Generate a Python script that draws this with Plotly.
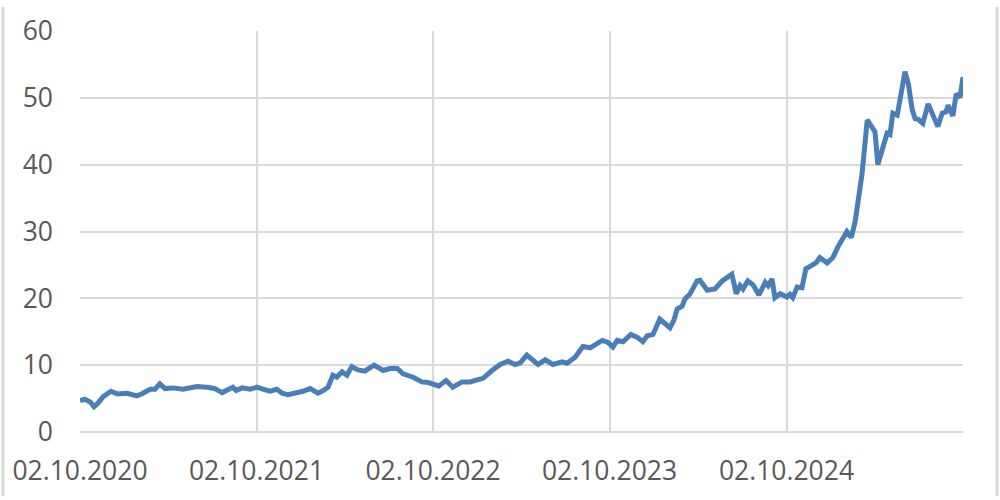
import plotly.graph_objects as go

# weekly-ish price series
dates = [
    "2020-10-02", "2020-10-12", "2020-10-23", "2020-10-31", "2020-11-08", "2020-11-19",
    "2020-12-05", "2020-12-18", "2021-01-07", "2021-01-28", "2021-02-09", "2021-02-24",
    "2021-03-06", "2021-03-16", "2021-03-27", "2021-04-12", "2021-05-03", "2021-06-01",
    "2021-06-22", "2021-07-08", "2021-07-23", "2021-08-04", "2021-08-14", "2021-08-21",
    "2021-09-02", "2021-09-19", "2021-10-03", "2021-10-15", "2021-10-30", "2021-11-13",
    "2021-11-24", "2021-12-06", "2021-12-25", "2022-01-06", "2022-01-21", "2022-02-06",
    "2022-02-17", "2022-02-27", "2022-03-09", "2022-03-17", "2022-03-28", "2022-04-07",
    "2022-04-17", "2022-04-30", "2022-05-14", "2022-06-02", "2022-06-21", "2022-07-05",
    "2022-07-20", "2022-08-01", "2022-08-22", "2022-09-09", "2022-09-22", "2022-10-02",
    "2022-10-14", "2022-10-29", "2022-11-12", "2022-12-01", "2022-12-18", "2023-01-01",
    "2023-01-13", "2023-02-01", "2023-02-18", "2023-03-06", "2023-03-21", "2023-03-31",
    "2023-04-14", "2023-05-07", "2023-05-22", "2023-06-07", "2023-06-26", "2023-07-06",
    "2023-07-23", "2023-08-08", "2023-08-23", "2023-09-17", "2023-09-29", "2023-10-09",
    "2023-10-18", "2023-10-30", "2023-11-15", "2023-11-28", "2023-12-10", "2023-12-19",
    "2023-12-31", "2024-01-14", "2024-01-25", "2024-02-04", "2024-02-12", "2024-02-19",
    "2024-02-29", "2024-03-06", "2024-03-16", "2024-03-31", "2024-04-06", "2024-04-21",
    "2024-05-07", "2024-05-22", "2024-06-01", "2024-06-11", "2024-06-20", "2024-06-28",
    "2024-07-04", "2024-07-14", "2024-07-25", "2024-08-06", "2024-08-19", "2024-08-25",
    "2024-09-02", "2024-09-08", "2024-09-19", "2024-10-03", "2024-10-09", "2024-10-15",
    "2024-10-24", "2024-11-03", "2024-11-11", "2024-11-24", "2024-12-02", "2024-12-10",
    "2024-12-25", "2025-01-06", "2025-01-17", "2025-02-04", "2025-02-13", "2025-02-21",
    "2025-03-07", "2025-03-18", "2025-03-28", "2025-04-03", "2025-04-09", "2025-04-20",
    "2025-04-28", "2025-05-04", "2025-05-10", "2025-05-19", "2025-05-25", "2025-06-04",
    "2025-06-11", "2025-06-19", "2025-06-25", "2025-07-01", "2025-07-11", "2025-07-22",
    "2025-08-05", "2025-08-11", "2025-08-20", "2025-08-28", "2025-09-01", "2025-09-11",
    "2025-09-18", "2025-09-26", "2025-10-02",
]
values = [
    4.7, 4.9, 4.5, 3.8, 4.3, 5.3,
    6.1, 5.7, 5.8, 5.4, 5.8, 6.4,
    6.4, 7.2, 6.5, 6.6, 6.4, 6.8,
    6.7, 6.5, 5.9, 6.4, 6.7, 6.2,
    6.6, 6.4, 6.7, 6.4, 6.1, 6.4,
    5.8, 5.6, 5.8, 6.1, 6.5, 5.8,
    6.2, 6.7, 8.5, 8.2, 9.0, 8.5,
    9.8, 9.3, 9.1, 10.0, 9.2, 9.5,
    9.5, 8.7, 8.2, 7.5, 7.4, 7.1,
    6.9, 7.7, 6.7, 7.5, 7.5, 7.8,
    8.0, 9.2, 10.1, 10.6, 10.1, 10.3,
    11.5, 10.1, 10.8, 10.1, 10.5, 10.3,
    11.2, 12.8, 12.6, 13.7, 13.4, 12.7,
    13.7, 13.5, 14.6, 14.2, 13.5, 14.4,
    14.6, 16.9, 16.1, 15.6, 16.7, 18.4,
    18.8, 19.9, 20.6, 22.6, 22.7, 21.2,
    21.4, 22.6, 23.1, 23.6, 20.7, 21.9,
    21.4, 22.6, 22.0, 20.5, 22.4, 21.9,
    22.9, 20.1, 20.7, 20.2, 20.6, 20.1,
    21.7, 21.6, 24.4, 25.1, 25.3, 26.1,
    25.3, 26.1, 27.8, 30.0, 29.1, 31.5,
    38.5, 46.7, 45.4, 44.9, 40.0, 42.5,
    44.7, 44.5, 47.7, 47.4, 49.9, 53.9,
    52.1, 48.2, 46.9, 46.8, 46.2, 49.1,
    46.7, 45.7, 47.7, 47.9, 48.9, 47.3,
    50.6, 50.1, 53.1,
]
x_ticks = ["2020-10-02", "2021-10-02", "2022-10-02", "2023-10-02", "2024-10-02"]

grid = "#d9d9d9"
text_col = "#595959"

fig = go.Figure()
fig.add_trace(go.Scatter(
    x=dates, y=values, mode="lines",
    line=dict(color="#4a7ebb", width=5),
    hovertemplate="%{x|%d.%m.%Y}: %{y:.1f}<extra></extra>",
))

fig.update_layout(
    width=1000, height=500,
    margin=dict(l=80, r=37, t=28, b=68),
    plot_bgcolor="white", paper_bgcolor="white",
    font=dict(family="Open Sans", size=26.5, color=text_col),
    showlegend=False,
    xaxis=dict(
        type="date", range=[dates[0], dates[-1]],
        tickvals=x_ticks, tickformat="%d.%m.%Y",
        showgrid=True, gridcolor=grid, gridwidth=1.5,
        showline=False, zeroline=False, ticks="",
        ticklabelstandoff=20,
    ),
    yaxis=dict(
        range=[0, 60], dtick=10,
        showgrid=True, gridcolor=grid, gridwidth=1.5,
        zeroline=True, zerolinecolor=grid, zerolinewidth=1.5,
        showline=False, ticks="",
        ticklabelstandoff=26,
    ),
    shapes=[
        dict(type="line", xref="paper", yref="paper", x0=-77 / 883, x1=-77 / 883,
             y0=-0.16, y1=1.06, line=dict(color=grid, width=3)),
        dict(type="line", xref="paper", yref="paper", x0=1 + 34 / 883, x1=1 + 34 / 883,
             y0=-0.16, y1=1.06, line=dict(color=grid, width=3)),
    ],
)

fig.write_html("out.html", config={"displayModeBar": False},
               post_script="document.body.style.margin='0';")
